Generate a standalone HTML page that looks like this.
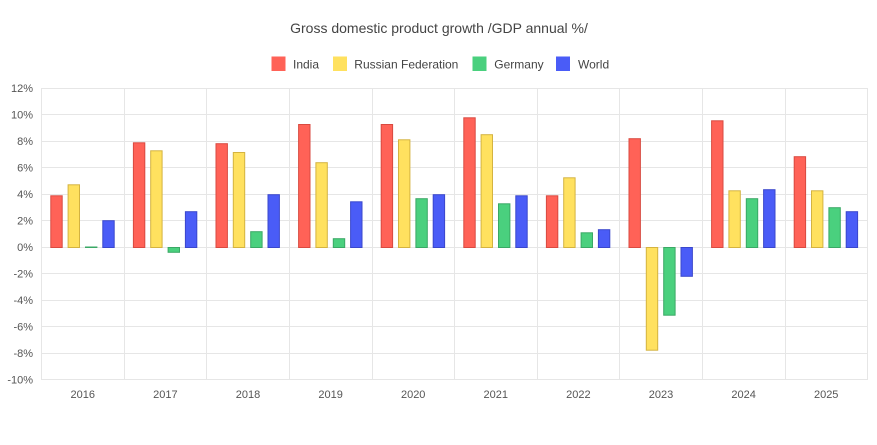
<!DOCTYPE html>
<html>
<head>
<meta charset="utf-8">
<style>
  html,body{margin:0;padding:0;background:#fff;}
  svg{display:block;}
  text{font-family:"Liberation Sans",Arial,sans-serif;fill:#444;}
  .tick text{fill:#555;}
</style>
</head>
<body>
<svg width="877" height="445" viewBox="0 0 877 445" xmlns="http://www.w3.org/2000/svg">
  <rect x="0" y="0" width="877" height="445" fill="#fff"/>
  <!-- title -->
  <text x="439" y="33" font-size="14" text-anchor="middle">Gross domestic product growth /GDP annual %/</text>
  <!-- legend -->
  <rect x="271.5" y="56.5" width="14" height="14.5" fill="#ff6257"/>
  <text x="293" y="68.3" font-size="12">India</text>
  <rect x="333" y="56.5" width="14" height="14.5" fill="#ffe15f"/>
  <text x="354.3" y="68.3" font-size="12">Russian Federation</text>
  <rect x="472.5" y="56.5" width="14" height="14.5" fill="#4ad07e"/>
  <text x="494.3" y="68.3" font-size="12">Germany</text>
  <rect x="556" y="56.5" width="14" height="14.5" fill="#4a5cf7"/>
  <text x="578" y="68.3" font-size="12">World</text>

  <!-- grid -->
  <g stroke="#e6e6e6" stroke-width="1">
    <line x1="41.5" x2="867.5" y1="88.5" y2="88.5"/>
    <line x1="41.5" x2="867.5" y1="114.5" y2="114.5"/>
    <line x1="41.5" x2="867.5" y1="141.5" y2="141.5"/>
    <line x1="41.5" x2="867.5" y1="167.5" y2="167.5"/>
    <line x1="41.5" x2="867.5" y1="194.5" y2="194.5"/>
    <line x1="41.5" x2="867.5" y1="220.5" y2="220.5"/>
    <line x1="41.5" x2="867.5" y1="247.5" y2="247.5"/>
    <line x1="41.5" x2="867.5" y1="273.5" y2="273.5"/>
    <line x1="41.5" x2="867.5" y1="300.5" y2="300.5"/>
    <line x1="41.5" x2="867.5" y1="326.5" y2="326.5"/>
    <line x1="41.5" x2="867.5" y1="353.5" y2="353.5"/>
    <line x1="41.5" x2="867.5" y1="379.5" y2="379.5"/>
    <line x1="41.5" x2="41.5" y1="88" y2="380"/>
    <line x1="124.5" x2="124.5" y1="88" y2="380"/>
    <line x1="206.5" x2="206.5" y1="88" y2="380"/>
    <line x1="289.5" x2="289.5" y1="88" y2="380"/>
    <line x1="372.5" x2="372.5" y1="88" y2="380"/>
    <line x1="454.5" x2="454.5" y1="88" y2="380"/>
    <line x1="537.5" x2="537.5" y1="88" y2="380"/>
    <line x1="619.5" x2="619.5" y1="88" y2="380"/>
    <line x1="702.5" x2="702.5" y1="88" y2="380"/>
    <line x1="785.5" x2="785.5" y1="88" y2="380"/>
    <line x1="867.5" x2="867.5" y1="88" y2="380"/>
  </g>

  <!-- y labels -->
  <g class="tick" font-size="11" text-anchor="end">
    <text x="33" y="92">12%</text>
    <text x="33" y="118.5">10%</text>
    <text x="33" y="145">8%</text>
    <text x="33" y="171.5">6%</text>
    <text x="33" y="198">4%</text>
    <text x="33" y="224.5">2%</text>
    <text x="33" y="251">0%</text>
    <text x="33" y="277.5">-2%</text>
    <text x="33" y="304">-4%</text>
    <text x="33" y="330.5">-6%</text>
    <text x="33" y="357">-8%</text>
    <text x="33" y="383.5">-10%</text>
  </g>
  <!-- x labels -->
  <g class="tick" font-size="11" text-anchor="middle">
    <text x="82.8" y="398">2016</text>
    <text x="165.4" y="398">2017</text>
    <text x="248" y="398">2018</text>
    <text x="330.6" y="398">2019</text>
    <text x="413.2" y="398">2020</text>
    <text x="495.8" y="398">2021</text>
    <text x="578.4" y="398">2022</text>
    <text x="661" y="398">2023</text>
    <text x="743.6" y="398">2024</text>
    <text x="826.2" y="398">2025</text>
  </g>

  <!-- India -->
  <g fill="#ff6257" stroke="#d94a40" stroke-width="1">
    <rect x="50.8" y="195.8" width="11.4" height="51.7"/>
    <rect x="133.4" y="142.8" width="11.4" height="104.7"/>
    <rect x="216" y="143.7" width="11.4" height="103.8"/>
    <rect x="298.6" y="124.5" width="11.4" height="123"/>
    <rect x="381.2" y="124.5" width="11.4" height="123"/>
    <rect x="463.8" y="117.8" width="11.4" height="129.7"/>
    <rect x="546.4" y="195.8" width="11.4" height="51.7"/>
    <rect x="629" y="138.7" width="11.4" height="108.8"/>
    <rect x="711.6" y="120.8" width="11.4" height="126.7"/>
    <rect x="794.2" y="156.7" width="11.4" height="90.8"/>
  </g>
  <!-- Russia -->
  <g fill="#ffe15f" stroke="#d4b340" stroke-width="1">
    <rect x="68.1" y="184.8" width="11.4" height="62.7"/>
    <rect x="150.7" y="150.8" width="11.4" height="96.7"/>
    <rect x="233.3" y="152.5" width="11.4" height="95"/>
    <rect x="315.9" y="162.7" width="11.4" height="84.8"/>
    <rect x="398.5" y="139.8" width="11.4" height="107.7"/>
    <rect x="481.1" y="134.7" width="11.4" height="112.8"/>
    <rect x="563.7" y="177.8" width="11.4" height="69.7"/>
    <rect x="646.3" y="247.5" width="11.4" height="102.7"/>
    <rect x="728.9" y="190.8" width="11.4" height="56.7"/>
    <rect x="811.5" y="190.8" width="11.4" height="56.7"/>
  </g>
  <!-- Germany -->
  <g fill="#4ad07e" stroke="#3aa865" stroke-width="1">
    <rect x="85.5" y="247" width="11.4" height="0.5"/>
    <rect x="168.1" y="247.5" width="11.4" height="4.8"/>
    <rect x="250.7" y="231.7" width="11.4" height="15.8"/>
    <rect x="333.3" y="238.7" width="11.4" height="8.8"/>
    <rect x="415.9" y="198.7" width="11.4" height="48.8"/>
    <rect x="498.5" y="203.8" width="11.4" height="43.7"/>
    <rect x="581.1" y="232.8" width="11.4" height="14.7"/>
    <rect x="663.7" y="247.5" width="11.4" height="67.7"/>
    <rect x="746.3" y="198.7" width="11.4" height="48.8"/>
    <rect x="828.9" y="207.7" width="11.4" height="39.8"/>
  </g>
  <!-- World -->
  <g fill="#4a5cf7" stroke="#3a47cc" stroke-width="1">
    <rect x="102.8" y="220.7" width="11.4" height="26.8"/>
    <rect x="185.4" y="211.7" width="11.4" height="35.8"/>
    <rect x="268" y="194.7" width="11.4" height="52.8"/>
    <rect x="350.6" y="201.8" width="11.4" height="45.7"/>
    <rect x="433.2" y="194.7" width="11.4" height="52.8"/>
    <rect x="515.8" y="195.8" width="11.4" height="51.7"/>
    <rect x="598.4" y="229.7" width="11.4" height="17.8"/>
    <rect x="681" y="247.5" width="11.4" height="28.8"/>
    <rect x="763.6" y="189.7" width="11.4" height="57.8"/>
    <rect x="846.2" y="211.7" width="11.4" height="35.8"/>
  </g>
</svg>
</body>
</html>
